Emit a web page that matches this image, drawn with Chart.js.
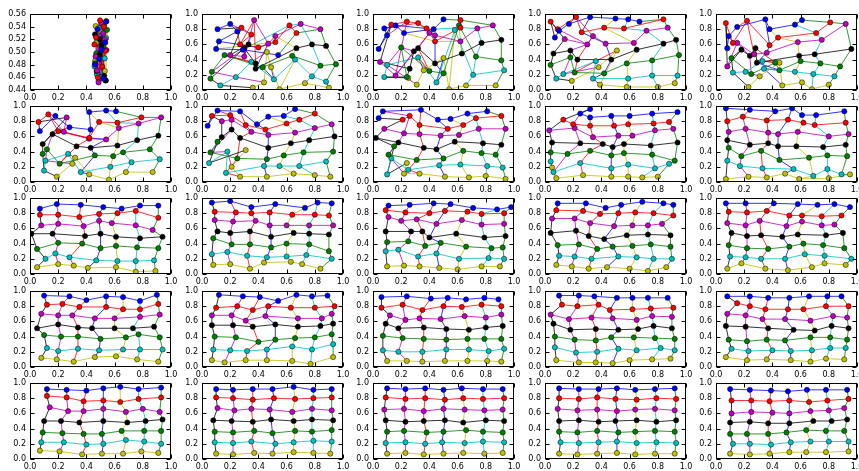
<!DOCTYPE html>
<html>
<head>
<meta charset="utf-8">
<script src="https://cdn.jsdelivr.net/npm/chart.js@4.4.1/dist/chart.umd.min.js"></script>
<style>
  body { margin: 0; background: #fff; width: 859px; height: 471px; overflow: hidden; position: relative; }
  canvas { position: absolute; }
</style>
</head>
<body>
<script>
// tick labels
var xTickLabels = ['0.0', '0.2', '0.4', '0.6', '0.8', '1.0'];
var yTickLabels = ['0.0', '0.2', '0.4', '0.6', '0.8', '1.0'];
var yTickLabelsFirst = ['0.44', '0.46', '0.48', '0.50', '0.52', '0.54', '0.56'];

// SOM grid at each snapshot: 7 rows (bottom row first), each row = 7 nodes [x, y] left to right
var step01 = [
  [[.487,.455],[.462,.486],[.531,.470],[.470,.515],[.541,.549],[.495,.534],[.466,.541]],
  [[.474,.465],[.530,.490],[.458,.477],[.512,.503],[.540,.522],[.489,.538],[.505,.460]],
  [[.536,.455],[.470,.498],[.520,.508],[.494,.520],[.546,.535],[.461,.482],[.525,.542]],
  [[.461,.528],[.527,.462],[.492,.495],[.507,.511],[.538,.455],[.472,.470],[.498,.520]],
  [[.504,.546],[.476,.471],[.531,.520],[.465,.493],[.519,.530],[.486,.452],[.543,.503]],
  [[.497,.550],[.468,.523],[.512,.477],[.534,.502],[.481,.460],[.523,.540],[.457,.512]],
  [[.541,.548],[.462,.480],[.519,.458],[.479,.536],[.534,.515],[.490,.489],[.509,.504]]
];
var step02 = [
  [[.36,.03],[.44,.10],[.46,.50],[.49,.30],[.55,.01],[.73,.09],[.90,.03]],
  [[.13,.06],[.24,.17],[.35,.37],[.51,.14],[.66,.40],[.78,.18],[.88,.11]],
  [[.06,.15],[.07,.24],[.16,.46],[.43,.30],[.64,.45],[.84,.32],[.95,.34]],
  [[.33,.60],[.30,.55],[.38,.35],[.38,.28],[.67,.55],[.78,.60],[.88,.58]],
  [[.20,.46],[.30,.44],[.37,.92],[.47,.61],[.52,.71],[.70,.87],[.84,.80]],
  [[.28,.82],[.35,.73],[.27,.60],[.40,.56],[.52,.63],[.62,.85],[.67,.75]],
  [[.11,.80],[.20,.87],[.25,.77],[.12,.64],[.10,.54],[.29,.53],[.54,.46]]
];
var step03 = [
  [[.25,.16],[.31,.07],[.36,.26],[.50,.42],[.54,.01],[.66,.06],[.87,.06]],
  [[.08,.17],[.10,.33],[.32,.43],[.45,.10],[.58,.79],[.71,.20],[.93,.26]],
  [[.24,.17],[.20,.56],[.40,.25],[.50,.22],[.61,.85],[.73,.44],[.91,.39]],
  [[.26,.28],[.29,.51],[.32,.55],[.44,.35],[.63,.48],[.77,.62],[.91,.66]],
  [[.05,.37],[.16,.19],[.40,.75],[.44,.72],[.62,.64],[.74,.81],[.85,.85]],
  [[.13,.86],[.24,.90],[.32,.88],[.38,.81],[.44,.64],[.62,.82],[.62,.92]],
  [[.04,.54],[.10,.72],[.08,.81],[.16,.85],[.22,.75],[.43,.80],[.50,.93]]
];
var step04 = [
  [[.19,.12],[.38,.30],[.51,.52],[.39,.07],[.58,.04],[.80,.04],[.92,.09]],
  [[.08,.15],[.13,.21],[.36,.38],[.34,.15],[.59,.15],[.76,.19],[.94,.19]],
  [[.04,.33],[.18,.43],[.21,.23],[.42,.22],[.58,.35],[.76,.39],[.95,.46]],
  [[.06,.48],[.18,.52],[.23,.40],[.47,.40],[.65,.53],[.84,.61],[.93,.66]],
  [[.14,.67],[.30,.60],[.34,.71],[.43,.61],[.63,.62],[.72,.78],[.87,.82]],
  [[.04,.90],[.09,.80],[.22,.96],[.26,.76],[.42,.82],[.56,.81],[.84,.93]],
  [[.07,.69],[.10,.78],[.17,.87],[.32,.96],[.50,.94],[.59,.93],[.67,.90]]
];
var step05 = [
  [[.23,.04],[.31,.18],[.45,.36],[.47,.06],[.61,.10],[.68,.01],[.80,.07]],
  [[.12,.23],[.21,.24],[.33,.38],[.34,.28],[.56,.24],[.69,.21],[.84,.18]],
  [[.11,.42],[.25,.21],[.42,.36],[.45,.26],[.60,.38],[.74,.35],[.88,.31]],
  [[.18,.53],[.24,.45],[.28,.55],[.29,.36],[.59,.45],[.70,.47],[.96,.54]],
  [[.08,.31],[.15,.62],[.27,.47],[.36,.49],[.58,.63],[.75,.66],[.92,.87]],
  [[.07,.88],[.12,.62],[.22,.91],[.38,.59],[.44,.69],[.71,.75],[.81,.89]],
  [[.08,.55],[.09,.71],[.15,.83],[.35,.93],[.38,.80],[.56,.86],[.61,.92]]
];
var step06 = [
  [[.19,.07],[.30,.24],[.32,.32],[.42,.10],[.56,.03],[.68,.13],[.87,.13]],
  [[.10,.15],[.11,.28],[.27,.37],[.36,.13],[.57,.20],[.72,.26],[.92,.30]],
  [[.09,.37],[.12,.43],[.21,.24],[.46,.35],[.59,.34],[.66,.39],[.85,.43]],
  [[.09,.50],[.16,.63],[.33,.47],[.43,.45],[.62,.48],[.76,.55],[.91,.61]],
  [[.26,.85],[.24,.66],[.42,.57],[.54,.56],[.63,.71],[.77,.77],[.93,.85]],
  [[.06,.79],[.13,.89],[.20,.67],[.42,.58],[.49,.79],[.62,.78],[.79,.85]],
  [[.07,.67],[.18,.87],[.28,.72],[.43,.69],[.42,.92],[.54,.94],[.61,.93]]
];
var step07 = [
  [[.31,.42],[.21,.20],[.27,.07],[.46,.07],[.65,.11],[.80,.09],[.91,.07]],
  [[.05,.25],[.18,.40],[.17,.12],[.44,.21],[.55,.21],[.69,.21],[.88,.27]],
  [[.11,.53],[.06,.39],[.25,.31],[.46,.30],[.58,.35],[.72,.39],[.93,.40]],
  [[.14,.59],[.21,.69],[.27,.58],[.47,.45],[.63,.51],[.76,.55],[.94,.60]],
  [[.14,.80],[.21,.82],[.35,.66],[.47,.62],[.66,.65],[.80,.71],[.92,.76]],
  [[.07,.87],[.20,.88],[.31,.75],[.45,.69],[.60,.77],[.69,.82],[.80,.90]],
  [[.04,.74],[.11,.94],[.27,.93],[.39,.76],[.47,.86],[.58,.87],[.66,.96]]
];
var step08 = [
  [[.24,.25],[.22,.11],[.33,.11],[.51,.07],[.68,.06],[.80,.08],[.94,.04]],
  [[.10,.10],[.13,.31],[.25,.16],[.47,.22],[.62,.23],[.81,.21],[.92,.19]],
  [[.15,.47],[.11,.36],[.31,.29],[.50,.31],[.64,.41],[.77,.38],[.87,.36]],
  [[.02,.58],[.18,.52],[.36,.45],[.45,.43],[.58,.53],[.78,.51],[.91,.49]],
  [[.08,.70],[.22,.64],[.33,.63],[.48,.61],[.61,.62],[.75,.70],[.94,.70]],
  [[.21,.82],[.26,.87],[.33,.75],[.53,.70],[.64,.75],[.73,.84],[.91,.87]],
  [[.04,.84],[.07,.93],[.34,.95],[.46,.82],[.55,.83],[.67,.90],[.81,.93]]
];
var step09 = [
  [[.05,.19],[.08,.05],[.27,.09],[.47,.07],[.59,.07],[.69,.06],[.80,.07]],
  [[.04,.27],[.06,.13],[.25,.25],[.47,.18],[.59,.23],[.78,.18],[.88,.24]],
  [[.04,.39],[.16,.37],[.32,.41],[.47,.35],[.56,.38],[.76,.36],[.92,.28]],
  [[.05,.52],[.25,.51],[.41,.50],[.48,.46],[.56,.50],[.75,.48],[.94,.52]],
  [[.03,.68],[.21,.71],[.34,.59],[.52,.61],[.62,.61],[.78,.68],[.91,.70]],
  [[.13,.82],[.20,.76],[.32,.74],[.49,.74],[.59,.76],[.77,.77],[.88,.79]],
  [[.32,.96],[.25,.90],[.32,.85],[.47,.87],[.60,.87],[.76,.90],[.94,.92]]
];
var step10 = [
  [[.07,.04],[.23,.07],[.36,.06],[.49,.11],[.59,.04],[.80,.05],[.95,.10]],
  [[.08,.28],[.17,.21],[.33,.18],[.55,.17],[.69,.08],[.79,.17],[.89,.10]],
  [[.09,.45],[.18,.34],[.32,.41],[.45,.29],[.66,.32],[.79,.35],[.93,.34]],
  [[.08,.55],[.24,.49],[.37,.51],[.44,.47],[.57,.47],[.76,.46],[.92,.49]],
  [[.09,.66],[.21,.70],[.37,.65],[.44,.63],[.58,.66],[.80,.60],[.94,.63]],
  [[.08,.80],[.19,.86],[.36,.81],[.51,.82],[.62,.78],[.70,.75],[.92,.78]],
  [[.07,.97],[.24,.95],[.42,.93],[.54,.97],[.61,.88],[.71,.88],[.91,.93]]
];
var step11 = [
  [[.05,.09],[.20,.13],[.31,.11],[.41,.08],[.61,.09],[.75,.03],[.89,.04]],
  [[.11,.20],[.18,.27],[.28,.22],[.47,.18],[.62,.17],[.75,.17],[.88,.18]],
  [[.05,.33],[.20,.41],[.37,.40],[.50,.34],[.61,.37],[.76,.35],[.91,.34]],
  [[.01,.53],[.16,.53],[.39,.50],[.50,.53],[.61,.49],[.78,.47],[.94,.49]],
  [[.08,.64],[.20,.66],[.38,.63],[.49,.70],[.58,.67],[.75,.64],[.87,.58]],
  [[.07,.78],[.20,.78],[.35,.75],[.49,.79],[.62,.80],[.75,.83],[.91,.74]],
  [[.07,.86],[.19,.92],[.36,.91],[.52,.88],[.65,.86],[.78,.90],[.91,.90]]
];
var step12 = [
  [[.08,.12],[.20,.13],[.34,.07],[.44,.15],[.63,.16],[.71,.13],[.84,.07]],
  [[.07,.26],[.18,.29],[.32,.24],[.46,.22],[.60,.23],[.74,.25],[.92,.20]],
  [[.08,.47],[.21,.39],[.34,.39],[.49,.35],[.60,.40],[.76,.39],[.90,.30]],
  [[.11,.56],[.20,.54],[.34,.56],[.49,.49],[.65,.54],[.76,.53],[.90,.52]],
  [[.09,.71],[.22,.69],[.38,.70],[.48,.64],[.60,.64],[.76,.64],[.93,.64]],
  [[.09,.82],[.24,.81],[.35,.80],[.48,.81],[.64,.78],[.80,.78],[.90,.77]],
  [[.07,.94],[.20,.96],[.35,.88],[.52,.92],[.73,.87],[.82,.94],[.92,.93]]
];
var step13 = [
  [[.10,.10],[.22,.11],[.33,.10],[.47,.08],[.60,.06],[.77,.10],[.90,.10]],
  [[.09,.30],[.18,.32],[.32,.23],[.45,.27],[.61,.20],[.82,.21],[.93,.20]],
  [[.10,.42],[.25,.43],[.37,.37],[.48,.41],[.66,.36],[.84,.34],[.92,.35]],
  [[.09,.56],[.27,.56],[.35,.56],[.40,.48],[.59,.53],[.79,.48],[.94,.50]],
  [[.11,.75],[.20,.70],[.31,.72],[.45,.66],[.63,.71],[.77,.65],[.93,.66]],
  [[.09,.84],[.23,.81],[.40,.80],[.51,.83],[.67,.82],[.77,.79],[.93,.80]],
  [[.11,.90],[.26,.91],[.43,.93],[.55,.92],[.71,.87],[.88,.85],[.98,.88]]
];
var step14 = [
  [[.08,.12],[.19,.10],[.31,.07],[.44,.09],[.60,.07],[.73,.04],[.86,.09]],
  [[.10,.24],[.21,.23],[.33,.20],[.52,.23],[.65,.22],[.77,.20],[.90,.20]],
  [[.09,.38],[.24,.39],[.37,.33],[.48,.36],[.62,.37],[.75,.39],[.89,.36]],
  [[.04,.54],[.22,.57],[.31,.50],[.42,.46],[.58,.51],[.73,.52],[.89,.51]],
  [[.05,.73],[.21,.73],[.32,.67],[.49,.63],[.62,.64],[.73,.64],[.83,.66]],
  [[.08,.84],[.27,.83],[.39,.79],[.52,.80],[.64,.81],[.77,.80],[.91,.77]],
  [[.09,.93],[.29,.93],[.43,.87],[.54,.91],[.69,.95],[.84,.93],[.91,.91]]
];
var step15 = [
  [[.08,.07],[.18,.14],[.35,.07],[.51,.05],[.68,.09],[.77,.14],[.92,.12]],
  [[.10,.23],[.21,.22],[.32,.20],[.49,.20],[.63,.26],[.77,.24],[.96,.20]],
  [[.09,.38],[.22,.34],[.37,.33],[.52,.36],[.62,.40],[.76,.38],[.91,.34]],
  [[.11,.54],[.22,.50],[.32,.51],[.47,.49],[.58,.52],[.78,.51],[.90,.54]],
  [[.08,.67],[.21,.64],[.31,.70],[.50,.63],[.61,.69],[.75,.64],[.84,.65]],
  [[.09,.82],[.22,.81],[.36,.83],[.52,.77],[.61,.77],[.75,.76],[.89,.77]],
  [[.07,.93],[.21,.93],[.41,.93],[.58,.92],[.72,.91],[.84,.92],[.95,.88]]
];
var step16 = [
  [[.08,.12],[.19,.10],[.31,.07],[.46,.13],[.61,.14],[.76,.10],[.91,.07]],
  [[.12,.25],[.20,.21],[.34,.24],[.49,.22],[.66,.23],[.78,.23],[.94,.23]],
  [[.10,.42],[.22,.40],[.34,.40],[.50,.37],[.68,.39],[.77,.43],[.92,.39]],
  [[.05,.51],[.20,.56],[.34,.52],[.44,.51],[.60,.51],[.73,.51],[.88,.53]],
  [[.08,.70],[.20,.68],[.30,.68],[.46,.64],[.60,.64],[.78,.66],[.92,.69]],
  [[.12,.82],[.23,.83],[.35,.79],[.54,.79],[.66,.76],[.78,.76],[.91,.83]],
  [[.10,.94],[.28,.93],[.40,.88],[.54,.93],[.66,.92],[.78,.87],[.90,.95]]
];
var step17 = [
  [[.07,.09],[.16,.06],[.31,.09],[.46,.09],[.64,.08],[.77,.04],[.93,.13]],
  [[.08,.23],[.20,.22],[.32,.21],[.46,.23],[.64,.27],[.78,.23],[.93,.30]],
  [[.09,.40],[.24,.39],[.40,.33],[.52,.36],[.66,.38],[.80,.39],[.92,.43]],
  [[.07,.55],[.22,.55],[.36,.53],[.52,.56],[.68,.53],[.84,.54],[.93,.57]],
  [[.07,.68],[.21,.68],[.31,.61],[.45,.67],[.68,.64],[.85,.64],[.92,.70]],
  [[.10,.78],[.25,.80],[.36,.75],[.47,.80],[.63,.78],[.80,.78],[.94,.80]],
  [[.12,.95],[.29,.93],[.41,.92],[.54,.87],[.67,.95],[.78,.93],[.89,.94]]
];
var step18 = [
  [[.10,.08],[.24,.08],[.35,.07],[.51,.08],[.67,.08],[.81,.08],[.91,.07]],
  [[.07,.22],[.18,.20],[.35,.20],[.52,.23],[.68,.23],[.82,.21],[.93,.24]],
  [[.07,.41],[.21,.38],[.36,.37],[.52,.36],[.67,.37],[.79,.37],[.91,.37]],
  [[.09,.57],[.18,.51],[.36,.52],[.52,.50],[.68,.49],[.80,.52],[.92,.54]],
  [[.12,.68],[.23,.62],[.33,.64],[.48,.63],[.65,.67],[.80,.65],[.91,.69]],
  [[.06,.78],[.21,.82],[.35,.75],[.50,.80],[.63,.79],[.77,.82],[.91,.80]],
  [[.06,.92],[.24,.93],[.41,.90],[.53,.91],[.66,.89],[.79,.91],[.89,.89]]
];
var step19 = [
  [[.08,.09],[.24,.06],[.36,.06],[.48,.05],[.60,.09],[.76,.10],[.89,.11]],
  [[.07,.26],[.22,.19],[.37,.20],[.52,.24],[.65,.22],[.82,.25],[.92,.22]],
  [[.07,.40],[.21,.36],[.36,.35],[.47,.39],[.63,.39],[.78,.38],[.92,.37]],
  [[.06,.57],[.18,.49],[.36,.50],[.52,.49],[.66,.50],[.77,.54],[.90,.51]],
  [[.04,.69],[.17,.63],[.33,.65],[.48,.64],[.65,.62],[.76,.67],[.90,.66]],
  [[.12,.82],[.23,.80],[.38,.82],[.46,.75],[.62,.76],[.75,.77],[.91,.78]],
  [[.10,.94],[.24,.94],[.35,.93],[.51,.91],[.62,.91],[.73,.91],[.87,.91]]
];
var step20 = [
  [[.07,.13],[.22,.09],[.36,.10],[.53,.09],[.67,.07],[.78,.11],[.91,.10]],
  [[.11,.24],[.23,.21],[.40,.22],[.53,.21],[.68,.22],[.81,.25],[.92,.25]],
  [[.09,.36],[.22,.34],[.36,.36],[.49,.35],[.67,.39],[.81,.39],[.93,.36]],
  [[.07,.54],[.21,.53],[.37,.51],[.55,.49],[.70,.48],[.82,.54],[.94,.51]],
  [[.08,.70],[.21,.68],[.33,.63],[.49,.63],[.67,.61],[.83,.67],[.93,.65]],
  [[.15,.84],[.24,.80],[.35,.76],[.51,.76],[.62,.76],[.78,.80],[.94,.80]],
  [[.08,.93],[.24,.93],[.37,.91],[.52,.91],[.66,.93],[.79,.93],[.89,.93]]
];
var step21 = [
  [[.07,.11],[.21,.10],[.37,.06],[.51,.07],[.66,.07],[.79,.10],[.91,.08]],
  [[.08,.22],[.24,.22],[.40,.19],[.52,.20],[.68,.25],[.81,.23],[.93,.20]],
  [[.09,.35],[.23,.34],[.38,.33],[.51,.33],[.65,.37],[.81,.37],[.93,.37]],
  [[.10,.50],[.22,.50],[.35,.48],[.52,.50],[.69,.48],[.82,.50],[.94,.52]],
  [[.14,.68],[.27,.63],[.38,.63],[.52,.66],[.68,.62],[.80,.66],[.92,.62]],
  [[.12,.83],[.26,.81],[.38,.76],[.52,.77],[.64,.75],[.77,.79],[.93,.81]],
  [[.12,.92],[.26,.91],[.40,.90],[.52,.93],[.64,.95],[.77,.92],[.93,.94]]
];
var step22 = [
  [[.10,.07],[.22,.06],[.37,.08],[.50,.07],[.65,.09],[.79,.08],[.91,.07]],
  [[.09,.22],[.22,.21],[.35,.23],[.52,.20],[.65,.22],[.79,.24],[.92,.23]],
  [[.09,.36],[.22,.35],[.37,.37],[.50,.34],[.66,.37],[.78,.36],[.92,.38]],
  [[.08,.51],[.21,.50],[.36,.49],[.49,.52],[.65,.50],[.78,.52],[.93,.51]],
  [[.11,.67],[.23,.64],[.35,.66],[.48,.65],[.64,.62],[.78,.66],[.92,.64]],
  [[.10,.81],[.22,.80],[.36,.78],[.51,.80],[.66,.79],[.79,.80],[.92,.81]],
  [[.10,.92],[.22,.91],[.36,.92],[.50,.92],[.65,.95],[.79,.91],[.92,.92]]
];
var step23 = [
  [[.10,.07],[.23,.08],[.36,.06],[.50,.07],[.64,.08],[.79,.07],[.92,.08]],
  [[.09,.21],[.23,.22],[.37,.20],[.49,.22],[.65,.21],[.78,.23],[.93,.22]],
  [[.10,.36],[.22,.37],[.38,.35],[.50,.36],[.66,.38],[.78,.36],[.92,.35]],
  [[.09,.51],[.23,.49],[.36,.50],[.51,.51],[.64,.48],[.80,.51],[.93,.50]],
  [[.08,.65],[.22,.66],[.36,.63],[.50,.66],[.65,.65],[.79,.64],[.92,.65]],
  [[.09,.81],[.23,.79],[.37,.80],[.51,.78],[.64,.80],[.78,.79],[.93,.80]],
  [[.10,.93],[.23,.92],[.37,.93],[.50,.91],[.63,.93],[.78,.92],[.92,.92]]
];
var step24 = [
  [[.10,.07],[.23,.06],[.37,.07],[.51,.08],[.64,.06],[.78,.07],[.92,.07]],
  [[.11,.22],[.24,.21],[.38,.22],[.51,.23],[.65,.21],[.79,.22],[.93,.21]],
  [[.10,.36],[.23,.35],[.37,.37],[.52,.35],[.64,.36],[.78,.37],[.92,.36]],
  [[.10,.50],[.24,.51],[.38,.49],[.50,.50],[.65,.51],[.79,.49],[.93,.51]],
  [[.09,.66],[.23,.64],[.37,.65],[.51,.63],[.64,.65],[.78,.66],[.92,.64]],
  [[.10,.80],[.24,.79],[.37,.81],[.50,.79],[.65,.78],[.79,.80],[.93,.79]],
  [[.10,.93],[.24,.92],[.38,.92],[.51,.93],[.64,.91],[.78,.92],[.92,.93]]
];
var step25 = [
  [[.10,.07],[.24,.06],[.38,.07],[.52,.09],[.64,.09],[.78,.09],[.94,.10]],
  [[.12,.20],[.24,.20],[.39,.19],[.53,.22],[.67,.23],[.80,.23],[.94,.23]],
  [[.10,.33],[.22,.33],[.37,.33],[.50,.35],[.64,.38],[.78,.37],[.91,.37]],
  [[.10,.48],[.24,.49],[.37,.47],[.52,.47],[.69,.50],[.82,.50],[.93,.52]],
  [[.11,.60],[.25,.62],[.40,.61],[.52,.60],[.67,.63],[.80,.64],[.91,.67]],
  [[.11,.77],[.25,.77],[.38,.76],[.52,.77],[.66,.75],[.79,.77],[.94,.79]],
  [[.10,.92],[.24,.91],[.39,.90],[.51,.89],[.645,.91],[.78,.91],[.93,.91]]
];

var steps = [step01, step02, step03, step04, step05, step06, step07, step08, step09, step10,
             step11, step12, step13, step14, step15, step16, step17, step18, step19, step20,
             step21, step22, step23, step24, step25];

// matplotlib classic colours: rows bottom->top, columns left->right
var rowColors = ['#bfbf00', '#00bfbf', '#008000', '#000000', '#bf00bf', '#ff0000', '#0000ff'];
var colColors = ['#000000', '#bf00bf', '#ff0000', '#0000ff', '#bfbf00', '#00bfbf', '#008000'];

var boxLefts = [30, 202, 373, 545, 716];
var boxTops = [14, 106, 198, 291, 383];
var boxW = 141, boxH = 76;
var YW = 30, XH = 14, PT = 6, PR = 9;

Chart.defaults.font.family = '"DejaVu Sans", sans-serif';
Chart.defaults.font.size = 8;
Chart.defaults.color = '#000';

function fade(hex, a) {
    var n = parseInt(hex.slice(1), 16);
    return 'rgba(' + ((n >> 16) & 255) + ',' + ((n >> 8) & 255) + ',' + (n & 255) + ',' + a + ')';
}

// box round the axes with inward ticks on all four sides
var framePlugin = {
    id: 'frame',
    afterDatasetsDraw: function (chart) {
        var a = chart.chartArea, ctx = chart.ctx;
        var l = Math.round(a.left) + 0.5, t = Math.round(a.top) + 0.5;
        var r = Math.round(a.right) - 0.5, b = Math.round(a.bottom) - 0.5;
        ctx.save();
        ctx.strokeStyle = '#000';
        ctx.lineWidth = 1;
        ctx.beginPath();
        chart.scales.x.ticks.forEach(function (tk) {
            var px = Math.round(chart.scales.x.getPixelForValue(tk.value)) + 0.5;
            ctx.moveTo(px, b); ctx.lineTo(px, b - 4);
            ctx.moveTo(px, t); ctx.lineTo(px, t + 4);
        });
        chart.scales.y.ticks.forEach(function (tk) {
            var py = Math.round(chart.scales.y.getPixelForValue(tk.value)) + 0.5;
            ctx.moveTo(l, py); ctx.lineTo(l + 4, py);
            ctx.moveTo(r, py); ctx.lineTo(r - 4, py);
        });
        ctx.stroke();
        ctx.strokeRect(l, t, r - l, b - t);
        ctx.restore();
    }
};

// one link of the grid, its two nodes ordered by x
function link(p, q) {
    var a = { x: p[0], y: p[1] }, b = { x: q[0], y: q[1] };
    return a.x <= b.x ? [a, b] : [b, a];
}

function buildDatasets(grid) {
    var ds = [];
    var r, c;
    // node markers, listed first so they sit on top
    for (r = 6; r >= 0; r--) {
        ds.push({
            data: grid[r].map(function (p) { return { x: p[0], y: p[1] }; }),
            showLine: false,
            pointRadius: 2.6,
            pointBackgroundColor: rowColors[r],
            pointBorderColor: '#000',
            pointBorderWidth: 0.5
        });
    }
    // links along each row
    for (r = 6; r >= 0; r--) {
        for (c = 0; c < 6; c++) {
            ds.push({
                data: link(grid[r][c], grid[r][c + 1]),
                showLine: true,
                borderColor: fade(rowColors[r], 0.8),
                borderWidth: 1,
                pointRadius: 0
            });
        }
    }
    // links along each column
    for (c = 0; c < 7; c++) {
        for (r = 0; r < 6; r++) {
            ds.push({
                data: link(grid[r][c], grid[r + 1][c]),
                showLine: true,
                borderColor: fade(colColors[c], 0.8),
                borderWidth: 1,
                pointRadius: 0
            });
        }
    }
    return ds;
}

function makeScale(labels) {
    var values = labels.map(Number);
    return {
        min: values[0],
        max: values[values.length - 1],
        grid: { display: false, drawTicks: false },
        border: { display: false },
        ticks: { autoSkip: false, maxRotation: 0, stepSize: values[1] - values[0] },
        afterTickToLabelConversion: function (s) {
            s.ticks.forEach(function (tk, i) { tk.label = labels[i]; });
        }
    };
}

steps.forEach(function (grid, i) {
    var row = Math.floor(i / 5), col = i % 5;
    var cv = document.createElement('canvas');
    var w = boxW + YW + PR, h = boxH + PT + XH;
    cv.width = w; cv.height = h;
    cv.style.width = w + 'px'; cv.style.height = h + 'px';
    cv.style.left = (boxLefts[col] - YW) + 'px';
    cv.style.top = (boxTops[row] - PT) + 'px';
    document.body.appendChild(cv);

    var xScale = makeScale(xTickLabels);
    xScale.ticks.padding = 3;
    xScale.afterFit = function (s) { s.height = XH; s.paddingLeft = 0; s.paddingRight = 0; };
    var yScale = makeScale(i === 0 ? yTickLabelsFirst : yTickLabels);
    yScale.ticks.padding = 4;
    yScale.afterFit = function (s) { s.width = YW; s.paddingTop = 0; s.paddingBottom = 0; };

    new Chart(cv.getContext('2d'), {
        type: 'scatter',
        data: { datasets: buildDatasets(grid) },
        options: {
            responsive: false,
            animation: false,
            devicePixelRatio: 1,
            layout: { padding: { top: PT, right: PR, left: 0, bottom: 0 } },
            scales: { x: xScale, y: yScale },
            plugins: { legend: { display: false } }
        },
        plugins: [framePlugin]
    });
});
</script>
</body>
</html>
